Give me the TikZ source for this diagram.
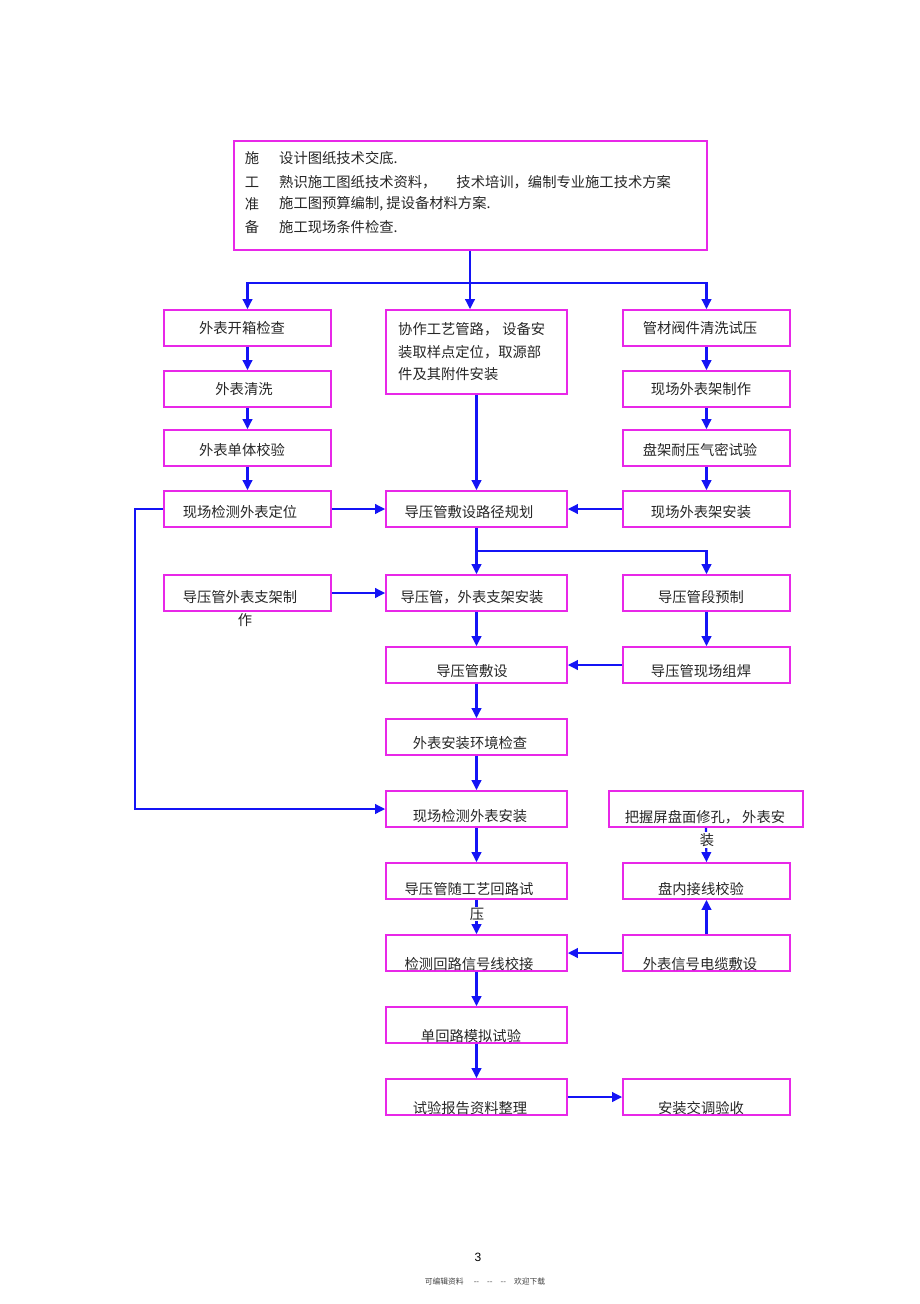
\documentclass[tikz,border=0pt]{standalone}
\usepackage{fontspec}
\newfontfamily\cjk{Noto Sans CJK SC}
\newfontfamily\lsans{Liberation Sans}
\usetikzlibrary{arrows.meta}
\definecolor{mag}{RGB}{232,40,232}
\definecolor{arrblue}{RGB}{20,20,245}
\tikzset{
  bx/.style={draw=mag, line width=1.7pt, inner sep=0pt, fill=none},
  txt/.style={font=\cjk\fontsize{14.3}{17}\selectfont, inner sep=0pt, text=black!85},
  arr/.style={draw=arrblue, line width=2.2pt, -{Triangle[length=10pt,width=9.5pt]}},
  ln/.style={draw=arrblue, line width=2.2pt},
}
\newcommand\bx[5]{\node[bx, minimum width=#4pt, minimum height=#5pt] (#1) at (#2,#3) {};}
\begin{document}
\begin{tikzpicture}[x=1pt,y=-1pt]
\useasboundingbox (0,0) rectangle (920,1304);
% ---------- boxes ----------
\bx{top}{470.5}{195.5}{473}{109}
\bx{a1}{247.5}{328}{167}{36}
\bx{a2}{247.5}{389}{167}{36}
\bx{a3}{247.5}{448}{167}{36}
\bx{a4}{247.5}{509}{167}{36}
\bx{b1}{476.5}{352}{181}{84}
\bx{c1}{706.5}{328}{167}{36}
\bx{c2}{706.5}{389}{167}{36}
\bx{c3}{706.5}{448}{167}{36}
\bx{c4}{706.5}{509}{167}{36}
\bx{b4}{476.5}{509}{181}{36}
\bx{a5}{247.5}{593}{167}{36}
\bx{b5}{476.5}{593}{181}{36}
\bx{c5}{706.5}{593}{167}{36}
\bx{b6}{476.5}{665}{181}{36}
\bx{c6}{706.5}{665}{167}{36}
\bx{b7}{476.5}{737}{181}{36}
\bx{b8}{476.5}{809}{181}{36}
\bx{d8}{706}{809}{194}{36}
\bx{b9}{476.5}{881}{181}{36}
\bx{c9}{706.5}{881}{167}{36}
\bx{b10}{476.5}{953}{181}{36}
\bx{c10}{706.5}{953}{167}{36}
\bx{b11}{476.5}{1025}{181}{36}
\bx{b12}{476.5}{1097}{181}{36}
\bx{c12}{706.5}{1097}{167}{36}
% ---------- connectors ----------
\coordinate (split) at (470,283);
\coordinate (br) at (477,551);
\draw[ln] (top.south -| split) -- (split);
\draw[arr] (split) -| (a1.north);
\draw[arr] (split) -| (c1.north);
\draw[arr] (split) -- (split |- b1.north);
\draw[arr] (a1.south) -- (a2.north);
\draw[arr] (a2.south) -- (a3.north);
\draw[arr] (a3.south) -- (a4.north);
\draw[arr] (c1.south) -- (c2.north);
\draw[arr] (c2.south) -- (c3.north);
\draw[arr] (c3.south) -- (c4.north);
\draw[arr] (b1.south) -- (b4.north);
\draw[arr] (a4.east) -- (b4.west);
\draw[arr] (c4.west) -- (b4.east);
\draw[arr] (a4.west) -- ++(-28,0) |- (b8.west);
\draw[arr] (b4.south) -- (b5.north);
\draw[arr] (br) -| (c5.north);
\draw[arr] (a5.east) -- (b5.west);
\draw[arr] (c5.south) -- (c6.north);
\draw[arr] (c6.west) -- (b6.east);
\draw[arr] (b5.south) -- (b6.north);
\draw[arr] (b6.south) -- (b7.north);
\draw[arr] (b7.south) -- (b8.north);
\draw[arr] (b8.south) -- (b9.north);
\draw[arr] (b9.south) -- (b10.north);
\draw[arr] (d8.south) -- (c9.north);
\draw[arr] (c10.north) -- (c9.south);
\draw[arr] (c10.west) -- (b10.east);
\draw[arr] (b10.south) -- (b11.north);
\draw[arr] (b11.south) -- (b12.north);
\draw[arr] (b12.east) -- (c12.west);
% ---------- texts ----------
\node[txt] (tk1) at (252,158) {施};
\node[txt] (tk2) at (252,182) {工};
\node[txt] (tk3) at (252,204) {准};
\node[txt] (tk4) at (252,227) {备};
\node[txt, anchor=west] (tl1) at (279,158) {设计图纸技术交底.};
\node[txt, anchor=west] (tl2) at (279,182) {熟识施工图纸技术资料，\hspace{20pt}技术培训，编制专业施工技术方案};
\node[txt, anchor=west] (tl3) at (279,204) {施工图预算编制, 提设备材料方案.};
\node[txt, anchor=west] (tl4) at (279,227) {施工现场条件检查.};
\node[txt] (ta1) at (242,328) {外表开箱检查};
\node[txt] (ta2) at (244,389) {外表清洗};
\node[txt] (ta3) at (242,450) {外表单体校验};
\node[txt] (ta4) at (240,512) {现场检测外表定位};
\node[txt, anchor=west] (tb1a) at (398,329) {协作工艺管路，\hspace{4pt}设备安};
\node[txt, anchor=west] (tb1b) at (398,352) {装取样点定位，取源部};
\node[txt, anchor=west] (tb1c) at (398,374) {件及其附件安装};
\node[txt] (tc1) at (700,328) {管材阀件清洗试压};
\node[txt] (tc2) at (701,389) {现场外表架制作};
\node[txt] (tc3) at (700,450) {盘架耐压气密试验};
\node[txt] (tc4) at (701,512) {现场外表架安装};
\node[txt] (tb4) at (469,512) {导压管敷设路径规划};
\node[txt] (ta5) at (240,597) {导压管外表支架制};
\node[txt] (ta5b) at (245,620) {作};
\node[txt] (tb5) at (472,597) {导压管，外表支架安装};
\node[txt] (tc5) at (701,597) {导压管段预制};
\node[txt] (tb6) at (472,671) {导压管敷设};
\node[txt] (tc6) at (701,671) {导压管现场组焊};
\node[txt] (tb7) at (470,743) {外表安装环境检查};
\node[txt] (tb8) at (470,816) {现场检测外表安装};
\node[txt] (td8) at (705,817) {把握屏盘面修孔，\hspace{3pt}外表安};
\node[txt, fill=white, inner sep=1pt] (td8b) at (707,840) {装};
\node[txt] (tb9) at (469,889) {导压管随工艺回路试};
\node[txt, fill=white, inner sep=1pt] (tb9b) at (477,914) {压};
\node[txt] (tc9) at (701,889) {盘内接线校验};
\node[txt] (tb10) at (469,964) {检测回路信号线校接};
\node[txt] (tc10) at (700,964) {外表信号电缆敷设};
\node[txt] (tb11) at (471,1036) {单回路模拟试验};
\node[txt] (tb12) at (470,1108) {试验报告资料整理};
\node[txt] (tc12) at (701,1108) {安装交调验收};
% ---------- footer ----------
\node[font=\lsans\fontsize{12}{14}\selectfont, inner sep=0pt] (pg) at (478,1257) {3};
\node[font=\cjk\fontsize{7.8}{9}\selectfont, inner sep=0pt, text=black!75] (ft) at (485,1282) {可编辑资料\hspace{10pt}-{}-\hspace{8pt}-{}-\hspace{8pt}-{}-\hspace{8pt}欢迎下载};
\end{tikzpicture}
\end{document}
